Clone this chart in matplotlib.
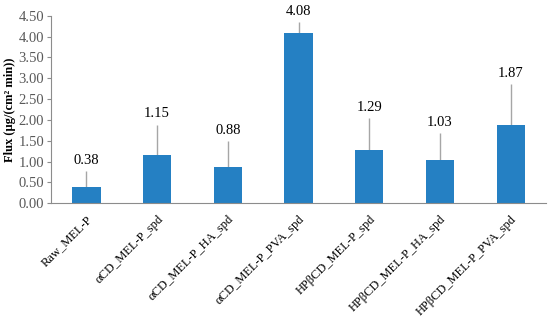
import numpy as np
import matplotlib.pyplot as plt

# flux of melatonin formulations
labels = ['Raw_MEL-P', 'αCD_MEL-P_spd', 'αCD_MEL-P_HA_spd', 'αCD_MEL-P_PVA_spd',
          'HPβCD_MEL-P_spd', 'HPβCD_MEL-P_HA_spd', 'HPβCD_MEL-P_PVA_spd']
flux = [0.38, 1.15, 0.88, 4.08, 1.29, 1.03, 1.87]
sd = [0.39, 0.74, 0.61, 0.27, 0.75, 0.65, 0.99]

plt.rcParams['font.family'] = ['Liberation Serif', 'DejaVu Serif']

fig = plt.figure(figsize=(5.5, 3.22), dpi=100)
ax = fig.add_axes([0.0927, 0.3686, 0.9003, 0.5824])

x = np.arange(len(labels))
ax.bar(x, flux, width=0.4, color='#2580c3', zorder=2)
ax.errorbar(x, flux, yerr=[np.zeros(len(sd)), sd], fmt='none',
            ecolor='#a6a6a6', elinewidth=1, capsize=0, zorder=1)
for xi, v, e in zip(x, flux, sd):
    ax.annotate(f'{v:.2f}', (xi, v + e), xytext=(0, 3), textcoords='offset points',
                ha='center', va='bottom', fontsize=10.5, color='black')

ax.set_xlim(-0.5, len(labels) - 0.5)
ax.set_ylim(0, 4.5)
ax.set_yticks(np.arange(0, 4.51, 0.5))
ax.set_yticklabels([f'{t:.2f}' for t in np.arange(0, 4.51, 0.5)])
ax.set_xticks(x)
ax.set_xticklabels(labels, rotation=45, ha='right', rotation_mode='anchor')
ax.tick_params(axis='y', colors='#8c8c8c', labelcolor='#595959', labelsize=10.5, length=3, pad=2)
ax.tick_params(axis='x', length=0, labelsize=9, labelcolor='black', pad=7)
ax.set_ylabel('Flux (μg/(cm² min))', fontsize=9, fontweight='bold', labelpad=2)

for s in ['top', 'right']:
    ax.spines[s].set_visible(False)
for s in ['left', 'bottom']:
    ax.spines[s].set_color('#8c8c8c')
    ax.spines[s].set_linewidth(0.8)

fig.savefig('out.png', dpi=100)
